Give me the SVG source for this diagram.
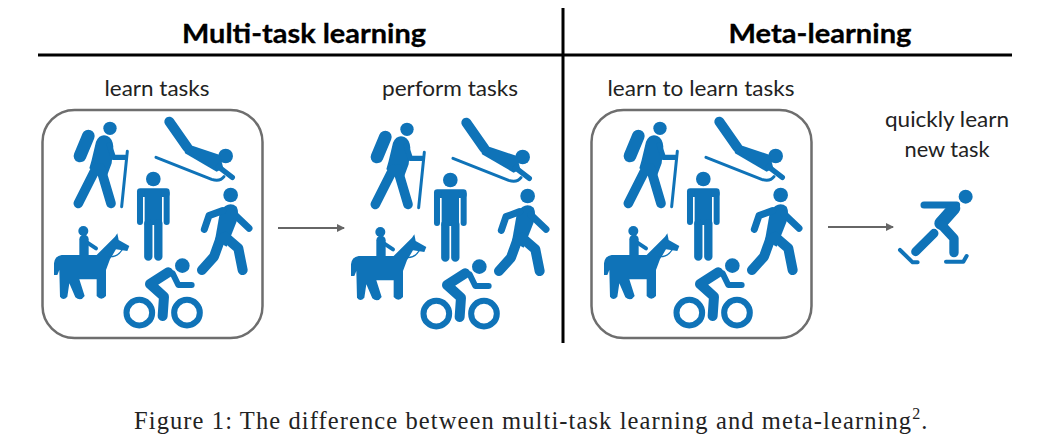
<svg xmlns="http://www.w3.org/2000/svg" xmlns:xlink="http://www.w3.org/1999/xlink" width="1038" height="438" viewBox="0 0 1038 438">
<style>
.h{font:bold 27px Lato,"Liberation Sans",sans-serif;fill:#000;text-anchor:middle;stroke:#000;stroke-width:.3}
.l{font:22px Lato,"Liberation Sans",sans-serif;fill:#222;text-anchor:middle}
.c{font:24.500px "Liberation Serif",serif;fill:#222;letter-spacing:1.100px}
.box{fill:#fff;stroke:#6e6e6e;stroke-width:2.5}
.ar{stroke:#666;stroke-width:2;fill:none;marker-end:url(#a)}
.s{fill:none;stroke:#0f73b8;stroke-linecap:round;stroke-linejoin:round}
.f{fill:#0f73b8}
</style>
<defs>
<marker id="a" markerWidth="9" markerHeight="8" refX="7" refY="4" orient="auto" markerUnits="userSpaceOnUse"><path d="M0 0L8 4L0 8Z" fill="#666"/></marker>
<g id="people" transform="scale(.3333)">
<circle class="f" cx="240" cy="85" r="20"/>
<path class="s" stroke-width="38" d="M175 108L150 168"/>
<path class="f" d="M198 125Q210 100 232 108Q248 115 250 140L245 190L232 225L205 222L178 205L185 180Z"/>
<path class="s" stroke-width="29" d="M198 205L145 310M212 205L243 310"/>
<path class="s" stroke-width="16" d="M238 135L250 172L285 172"/>
<path class="s" stroke-width="9" d="M292 154L275 320"/>
<circle class="f" cx="587" cy="168" r="22"/>
<path class="s" stroke-width="30" d="M418 65L472 142"/>
<path class="f" d="M460 128L570 165L580 205L560 215L465 160Z"/>
<path class="s" stroke-width="16" d="M565 200L607 232"/>
<path class="s" stroke-width="9" d="M378 172L545 238Q570 246 582 230"/>
<circle class="f" cx="370" cy="237" r="22"/>
<path class="s" stroke-width="18" d="M330 280V366M410 280V366"/>
<rect class="f" x="321" y="265" width="98" height="26" rx="10"/>
<rect class="f" x="344" y="270" width="52" height="105"/>
<path class="s" stroke-width="25" d="M355 370V470M385 370V470"/>
<circle class="f" cx="602" cy="285" r="22"/>
<path class="f" d="M570 335Q595 300 620 320Q630 340 618 370L590 440L555 420Z"/>
<path class="s" stroke-width="21" d="M578 332L537 347L523 388M612 342L657 385"/>
<path class="s" stroke-width="30" d="M570 420L552 470L516 510M585 410L625 445L638 510"/>
<circle class="f" cx="160" cy="393" r="15"/>
<path class="s" stroke-width="28" stroke-linecap="butt" d="M162 418V470"/>
<path class="s" stroke-width="12" d="M172 428L198 445"/>
<path class="f" d="M95 465H200L255 410L262 400L266 420L298 438L292 453L258 448L240 478L228 510L228 588Q214 604 200 588V538H148L164 588Q152 606 136 592L118 550L112 590Q100 604 90 590L88 510L82 525H72V490Q74 468 95 465Z"/>
<path class="s" stroke-width="4" d="M238 470Q262 472 276 450"/>
<circle class="f" cx="457" cy="497" r="22"/>
<path class="s" stroke-width="30" d="M415 517L360 552L402 590L398 648"/>
<path class="s" stroke-width="18" d="M428 520L445 555L485 555"/>
<circle class="s" stroke-width="18" cx="328" cy="638" r="38.500"/>
<circle class="s" stroke-width="18" cx="471" cy="638" r="38.500"/>
</g>
</defs>
<g id="dividers" stroke="#000" stroke-width="3"><path d="M38 55H1012M563 8V343"/></g>
<g id="headers">
<text class="h" x="304" y="43" textLength="244" lengthAdjust="spacingAndGlyphs">Multi-task learning</text>
<text class="h" x="820" y="43" textLength="183" lengthAdjust="spacingAndGlyphs">Meta-learning</text>
</g>
<g id="node-learn">
<text class="l" x="157" y="96" textLength="105" lengthAdjust="spacingAndGlyphs">learn tasks</text>
<rect class="box" x="42.500" y="110" width="220" height="228" rx="32"/>
<use xlink:href="#people" href="#people" transform="translate(30 100)"/>
</g>
<g id="node-perform">
<text class="l" x="450" y="96" textLength="136" lengthAdjust="spacingAndGlyphs">perform tasks</text>
<use xlink:href="#people" href="#people" transform="translate(327 101)"/>
</g>
<g id="node-learn-to-learn">
<text class="l" x="701" y="96" textLength="187" lengthAdjust="spacingAndGlyphs">learn to learn tasks</text>
<rect class="box" x="591.500" y="110" width="220" height="228" rx="32"/>
<use xlink:href="#people" href="#people" transform="translate(580 100)"/>
</g>
<g id="node-new-task">
<text class="l" x="947" y="127" textLength="124" lengthAdjust="spacingAndGlyphs">quickly learn</text>
<text class="l" x="947" y="157" textLength="85" lengthAdjust="spacingAndGlyphs">new task</text>
<g transform="translate(800 100) scale(.3333)">
<circle class="f" cx="497" cy="290" r="21"/>
<path class="s" stroke-width="21" d="M372 315H470"/>
<path class="s" stroke-width="38" d="M462 325L422 370"/>
<path class="s" stroke-width="27" d="M402 400L347 455"/>
<path class="s" stroke-width="28" d="M425 375L462 415V458"/>
<path class="s" stroke-width="12" d="M300 450L338 487H353M438 485H490L500 468"/>
</g>
</g>
<g id="connectors">
<path class="ar" d="M278 228H344"/>
<path class="ar" d="M828 227H893"/>
</g>
<text id="caption" class="c" x="134" y="429">Figure 1: The difference between multi-task learning and meta-learning<tspan font-size="16" dy="-10">2</tspan><tspan dy="10">.</tspan></text>
</svg>
